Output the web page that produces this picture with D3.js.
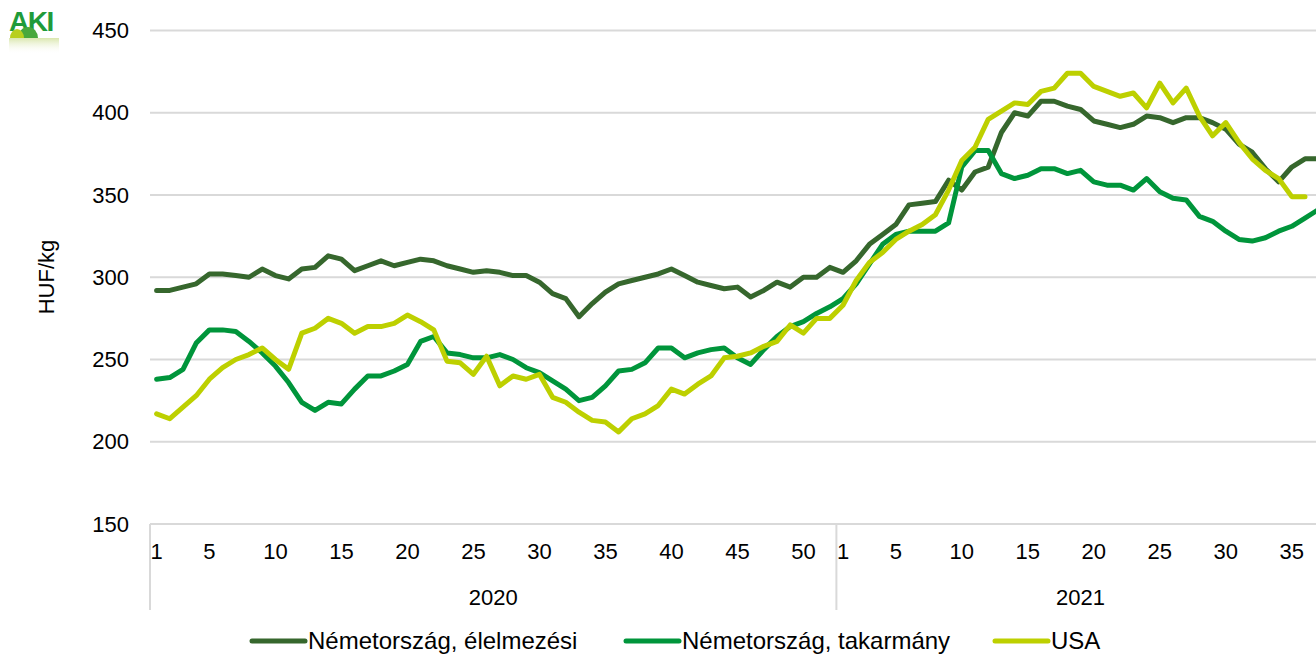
<!DOCTYPE html>
<html>
<head>
<meta charset="utf-8">
<script src="https://cdn.jsdelivr.net/npm/d3@7"></script>
<style>
  body { margin: 0; background: #fff; }
  svg { display: block; font-family: "Liberation Sans", Arial, sans-serif; }
</style>
</head>
<body>
<svg width="1316" height="657"></svg>
<script>
// weeks: 2020 has 52 weeks, 2021 shown up to week 37
var years = ["2020", "2021"],
    weeksPerYear = [52, 37],
    weekTicks = [1, 5, 10, 15, 20, 25, 30, 35, 40, 45, 50],
    yTicks = [150, 200, 250, 300, 350, 400, 450]

var seriesNames = ["Németország, élelmezési", "Németország, takarmány", "USA"],
    colors = ["#36672d", "#00953b", "#bdd000"]

var elelmezesi = [292, 292, 294, 296, 302, 302, 301, 300, 305, 301, 299, 305, 306, 313, 311, 304, 307, 310, 307, 309,
    311, 310, 307, 305, 303, 304, 303, 301, 301, 297, 290, 287, 276, 284, 291, 296, 298, 300, 302, 305,
    301, 297, 295, 293, 294, 288, 292, 297, 294, 300, 300, 306,
    303, 310, 320, 326, 332, 344, 345, 346, 359, 353, 364, 367, 388, 400, 398, 407, 407, 404,
    402, 395, 393, 391, 393, 398, 397, 394, 397, 397, 394, 390, 381, 376, 366, 358, 367, 372, 372]

var takarmany = [238, 239, 244, 260, 268, 268, 267, 261, 254, 246, 236, 224, 219, 224, 223, 232, 240, 240, 243, 247,
    261, 264, 254, 253, 251, 251, 253, 250, 245, 242, 237, 232, 225, 227, 234, 243, 244, 248, 257, 257,
    251, 254, 256, 257, 251, 247, 256, 264, 270, 273, 278, 282,
    287, 296, 308, 320, 326, 328, 328, 328, 333, 367, 377, 377, 363, 360, 362, 366, 366, 363,
    365, 358, 356, 356, 353, 360, 352, 348, 347, 337, 334, 328, 323, 322, 324, 328, 331, 336, 341]

var usa = [217, 214, 221, 228, 238, 245, 250, 253, 257, 250, 244, 266, 269, 275, 272, 266, 270, 270, 272, 277,
    273, 268, 249, 248, 241, 252, 234, 240, 238, 241, 227, 224, 218, 213, 212, 206, 214, 217, 222, 232,
    229, 235, 240, 251, 252, 254, 258, 261, 271, 266, 275, 275,
    283, 298, 309, 315, 323, 328, 332, 338, 353, 371, 379, 396, 401, 406, 405, 413, 415, 424,
    424, 416, 413, 410, 412, 403, 418, 406, 415, 398, 386, 394, 382, 372, 365, 360, 349, 349]

var seriesData = [elelmezesi, takarmany, usa]

document.addEventListener("DOMContentLoaded", function() {
    var svg = d3.select("svg")
    var left = 150, band = 13.2,
        top = 30.5, bottom = 524

    var keys = []
    years.forEach(function(y, yi) {
        for (var w = 1; w <= weeksPerYear[yi]; w++) keys.push(y + "-" + w)
    })

    var x = d3.scaleBand().domain(keys).range([left, left + keys.length * band]).padding(0)
    var y = d3.scaleLinear().domain([150, 450]).range([bottom, top])

    // gridlines
    svg.append("g").selectAll("line")
        .data(yTicks)
        .enter().append("line")
        .attr("x1", left).attr("x2", 1316)
        .attr("y1", function(d) { return y(d) })
        .attr("y2", function(d) { return y(d) })
        .attr("stroke", "#d9d9d9")
        .attr("stroke-width", 2)

    // y axis labels
    var yAxis = d3.axisLeft(y).tickValues(yTicks).tickSize(0).tickPadding(21)
    var gy = svg.append("g").attr("transform", "translate(" + left + ",0)").call(yAxis)
    gy.select(".domain").remove()
    gy.selectAll("text").style("font-size", "22px").attr("fill", "#000")

    svg.append("text")
        .attr("transform", "translate(54," + 277 + ") rotate(-90)")
        .attr("text-anchor", "middle")
        .style("font-size", "22px")
        .text("HUF/kg")

    // x axis week labels
    var xAxis = d3.axisBottom(x)
        .tickValues(keys.filter(function(k) { return weekTicks.indexOf(+k.split("-")[1]) >= 0 }))
        .tickFormat(function(k) { return k.split("-")[1] })
        .tickSize(0).tickPadding(19)
    var gx = svg.append("g").attr("transform", "translate(0," + bottom + ")").call(xAxis)
    gx.select(".domain").remove()
    gx.selectAll("text").style("font-size", "22px").attr("fill", "#000")

    // year group separators and labels
    var start = 0
    years.forEach(function(yr, yi) {
        var x0 = x(keys[start]), x1 = x0 + weeksPerYear[yi] * band
        svg.append("line")
            .attr("x1", x0).attr("x2", x0).attr("y1", bottom).attr("y2", 610)
            .attr("stroke", "#d9d9d9").attr("stroke-width", 2)
        svg.append("text")
            .attr("x", (x0 + x1) / 2).attr("y", 605)
            .attr("text-anchor", "middle")
            .style("font-size", "22px")
            .text(yr)
        start += weeksPerYear[yi]
    })

    // lines
    var line = d3.line()
        .x(function(d, i) { return x(keys[i]) + x.bandwidth() / 2 })
        .y(function(d) { return y(d) })

    seriesData.forEach(function(s, si) {
        svg.append("path")
            .datum(s)
            .attr("d", line)
            .attr("fill", "none")
            .attr("stroke", colors[si])
            .attr("stroke-width", 5)
            .attr("stroke-linejoin", "round")
            .attr("stroke-linecap", "round")
    })

    // legend
    var legendX = [252, 626, 995]
    var lg = svg.append("g").selectAll("g")
        .data(seriesNames)
        .enter().append("g")
        .attr("transform", function(d, i) { return "translate(" + legendX[i] + ",641)" })
    lg.append("line")
        .attr("x1", 0).attr("x2", 53)
        .attr("stroke", function(d, i) { return colors[i] })
        .attr("stroke-width", 5)
        .attr("stroke-linecap", "round")
    lg.append("text")
        .attr("x", 56).attr("y", 8)
        .style("font-size", "24px")
        .text(function(d) { return d })

    // AKI logo
    var defs = svg.append("defs")
    var grad = defs.append("linearGradient")
        .attr("id", "fade").attr("x1", 0).attr("x2", 0).attr("y1", 0).attr("y2", 1)
    grad.append("stop").attr("offset", 0).attr("stop-color", "#c9dc8a").attr("stop-opacity", 0.7)
    grad.append("stop").attr("offset", 1).attr("stop-color", "#ffffff").attr("stop-opacity", 0)
    var logo = svg.append("g").attr("transform", "translate(9,10)")
    logo.append("rect").attr("x", 0).attr("y", 28).attr("width", 50).attr("height", 16).attr("fill", "url(#fade)")
    logo.append("text")
        .attr("x", 0).attr("y", 21)
        .style("font-size", "28px").style("font-weight", "bold")
        .style("letter-spacing", "-1.5px")
        .attr("fill", "#1f9b3a")
        .text("AKI")
    logo.append("path").attr("d", "M9,28 A10,11 0 0 1 29,28 Z").attr("fill", "#49a83c")
    logo.append("path").attr("d", "M1,28 A7,9 0 0 1 15,28 Z").attr("fill", "#b8cf1e")
})
</script>
</body>
</html>
